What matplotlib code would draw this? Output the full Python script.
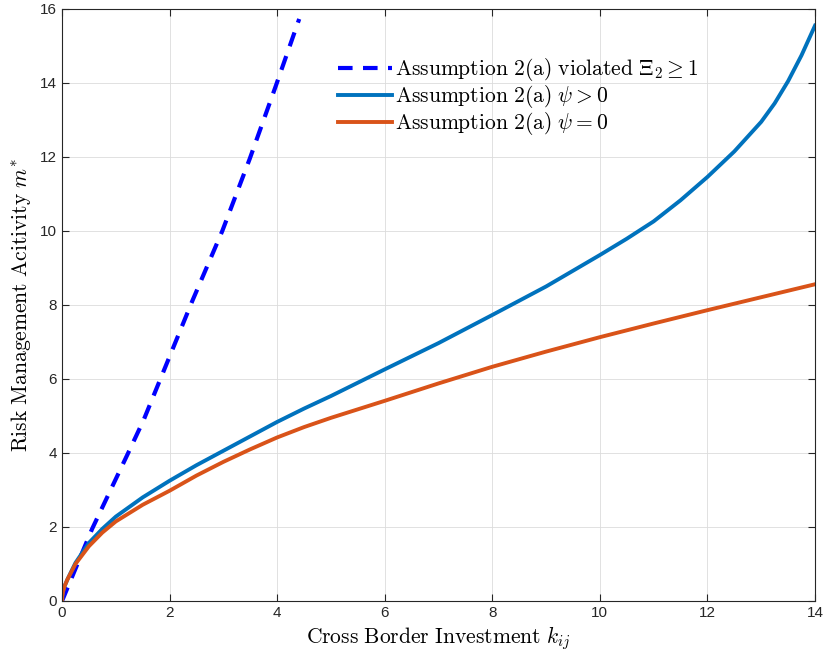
import matplotlib
matplotlib.use("Agg")
import matplotlib.pyplot as plt

plt.rcParams['mathtext.fontset'] = 'cm'

# dashed line: Assumption 2(a) violated
x_viol = [0, 0.56, 1.23, 1.52, 2.42, 2.98, 3.49, 3.97, 4.41]
y_viol = [0, 1.95, 4.0, 4.9, 8.1, 10.0, 11.95, 13.9, 15.73]

# psi > 0
x_pos = [0, 0.005, 0.02, 0.05, 0.1, 0.25, 0.5, 0.75, 1, 1.5, 2, 2.5, 3, 3.5, 4,
         4.5, 5, 6, 7, 8, 9, 10, 10.5, 11, 11.5, 12, 12.5, 13, 13.25, 13.5,
         13.75, 14]
y_pos = [0, 0.13, 0.26, 0.41, 0.58, 1.03, 1.57, 1.95, 2.28, 2.8, 3.25, 3.67,
         4.06, 4.45, 4.84, 5.2, 5.54, 6.26, 6.97, 7.73, 8.5, 9.35, 9.79, 10.26,
         10.83, 11.46, 12.15, 12.95, 13.45, 14.05, 14.75, 15.55]

# psi = 0
x_zero = [0, 0.005, 0.02, 0.05, 0.1, 0.25, 0.5, 0.75, 1, 1.5, 2, 2.5, 3, 3.5, 4,
          4.5, 5, 6, 7, 8, 9, 10, 11, 12, 13, 14]
y_zero = [0, 0.13, 0.26, 0.41, 0.58, 1.0, 1.48, 1.85, 2.15, 2.6, 2.98, 3.39,
          3.76, 4.1, 4.42, 4.7, 4.95, 5.41, 5.88, 6.33, 6.74, 7.13, 7.5, 7.86,
          8.21, 8.56]

xticks = [0, 2, 4, 6, 8, 10, 12, 14]
yticks = [0, 2, 4, 6, 8, 10, 12, 14, 16]

fig = plt.figure(figsize=(8.28, 6.6), dpi=100)
ax = fig.add_axes([0.0749, 0.0894, 0.9094, 0.897])

#curves
ax.plot(x_viol, y_viol, color='#0000FF', lw=3, dashes=(3.5, 2.5),
        label=r'$\mathrm{Assumption\ 2(a)\ violated}\ \Xi_2 \geq 1$')
ax.plot(x_pos, y_pos, color='#0072BD', lw=2.8, solid_joinstyle='round',
        label=r'$\mathrm{Assumption\ 2(a)}\ \psi > 0$')
ax.plot(x_zero, y_zero, color='#D95319', lw=2.8, solid_joinstyle='round',
        label=r'$\mathrm{Assumption\ 2(a)}\ \psi = 0$')

ax.set_xlim(0, 14)
ax.set_ylim(0, 16)
ax.set_xticks(xticks)
ax.set_yticks(yticks)
ax.grid(True, color='#dcdcdc', lw=0.6)
ax.set_axisbelow(True)
ax.tick_params(direction='in', top=True, right=True, length=5,
               labelsize=11, colors='#262626')
for lab in ax.get_xticklabels() + ax.get_yticklabels():
    lab.set_family('Liberation Sans')
for s in ax.spines.values():
    s.set_color('#262626')
    s.set_linewidth(0.8)

ax.set_xlabel(r'$\mathrm{Cross\ Border\ Investment}\ k_{ij}$', fontsize=15.5,
              labelpad=3)
ax.set_ylabel(r'$\mathrm{Risk\ Management\ Acitivity}\ m^{*}$', fontsize=15.5,
              labelpad=5)

ax.legend(loc='upper left', bbox_to_anchor=(0.355, 0.935), frameon=False,
          fontsize=15.5, handlelength=2.5, handletextpad=0.15, labelspacing=0.0,
          borderaxespad=0)

fig.savefig('out.png', dpi=100)
